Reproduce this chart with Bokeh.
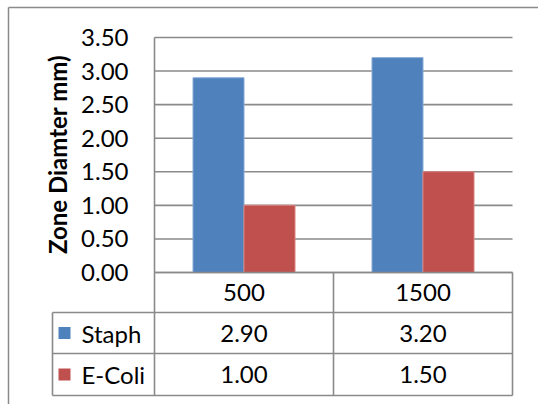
import math

from bokeh.plotting import figure
from bokeh.models import Range1d
from bokeh.core.properties import value
from bokeh.embed import file_html
from bokeh.resources import INLINE

# ---- data -------------------------------------------------------------
categories = ["500", "1500"]
series_names = ["Staph", "E-Coli"]
staph = [2.90, 3.20]
ecoli = [1.00, 1.50]
y_ticks = [0.0, 0.5, 1.0, 1.5, 2.0, 2.5, 3.0, 3.5]
y_tick_labels = ["0.00", "0.50", "1.00", "1.50", "2.00", "2.50", "3.00", "3.50"]
y_title = "Zone Diamter mm)"

series_values = [staph, ecoli]
series_colors = ["#4F81BD", "#C0504D"]
series_edges = ["#86A9D6", "#D9827F"]

# ---- canvas geometry (pixels) ----------------------------------------
W, H = 538, 404
PLOT_LEFT, PLOT_RIGHT = 154, 512
ZERO_PX, TOP_PX = 272, 37
CELL = (PLOT_RIGHT - PLOT_LEFT) / len(categories)
PX_PER_UNIT = (ZERO_PX - TOP_PX) / max(y_ticks)
ROW_EDGES = [272, 312, 353, 395]
LEGEND_LEFT = 52
BAR_W_PX = 51
GRID = "#8A8A8A"
FONT = value("Lato")
FS = "24px"


def xd(px):
    """Screen x -> category units (category i centred on i)."""
    return (px - PLOT_LEFT) / CELL - 0.5


def yd(py):
    """Screen y -> value units."""
    return (ZERO_PX - py) / PX_PER_UNIT


p = figure(width=W, height=H,
           x_range=Range1d(xd(0), xd(W)), y_range=Range1d(yd(H), yd(0)),
           x_axis_location=None, y_axis_location=None,
           toolbar_location=None, output_backend="svg", min_border=0)
p.outline_line_color = None
p.grid.grid_line_color = None
p.background_fill_color = "white"
p.border_fill_color = "white"

# outer chart border (left and top edges)
p.segment(x0=[xd(8), xd(8)], y0=[yd(7), yd(7)], x1=[xd(8), xd(W + 5)], y1=[yd(H + 5), yd(7)],
          line_color=GRID, line_width=1.5)

# horizontal gridlines
gx0 = xd(PLOT_LEFT)
gx1 = xd(PLOT_RIGHT)
p.segment(x0=[gx0] * len(y_ticks), y0=y_ticks, x1=[gx1] * len(y_ticks), y1=y_ticks,
          line_color=GRID, line_width=1.6)

# bars
n = len(series_names)
off = BAR_W_PX / CELL
for s, (vals, col, edge) in enumerate(zip(series_values, series_colors, series_edges)):
    xs = [i + (s - (n - 1) / 2) * off for i in range(len(categories))]
    p.vbar(x=xs, top=vals, bottom=0, width=off, fill_color=col,
           line_color=edge, line_width=1)

# value-axis line on the left of the plot area
p.segment(x0=[gx0], y0=[max(y_ticks)], x1=[gx0], y1=[0], line_color=GRID, line_width=1.6)

# y tick labels
p.text(x=[xd(128)] * len(y_ticks), y=y_ticks, text=y_tick_labels,
       text_font=FONT, text_font_size=FS, text_align="right",
       text_baseline="middle", text_color="#000000")

# y title
p.text(x=[xd(57)], y=[yd(154)], text=[y_title], angle=math.pi / 2,
       text_font=FONT, text_font_size="24px", text_font_style="bold",
       text_align="center", text_baseline="middle", text_color="#000000")

# ---- data table under the plot ---------------------------------------
# horizontal rules
hx0 = [xd(PLOT_LEFT), xd(LEGEND_LEFT), xd(LEGEND_LEFT), xd(LEGEND_LEFT)]
hy = [yd(r) for r in ROW_EDGES]
p.segment(x0=hx0, y0=hy, x1=[gx1] * 4, y1=hy, line_color=GRID, line_width=1.6)
# vertical rules
vxs = [xd(LEGEND_LEFT)] + [xd(PLOT_LEFT + i * CELL) for i in range(len(categories) + 1)]
vtop = [yd(ROW_EDGES[1])] + [yd(ROW_EDGES[0])] * (len(categories) + 1)
p.segment(x0=vxs, y0=vtop, x1=vxs, y1=[yd(ROW_EDGES[-1])] * len(vxs),
          line_color=GRID, line_width=1.6)

row_centers = [yd((ROW_EDGES[k] + ROW_EDGES[k + 1]) / 2) for k in range(len(ROW_EDGES) - 1)]

# category header row
p.text(x=list(range(len(categories))), y=[row_centers[0]] * len(categories), text=categories,
       text_font=FONT, text_font_size=FS, text_align="center",
       text_baseline="middle", text_color="#000000")

# series rows: legend key, name and values
for s, (name, vals, col) in enumerate(zip(series_names, series_values, series_colors)):
    yc = row_centers[s + 1]
    p.rect(x=[xd(64)], y=[yc], width=12, height=12, width_units="screen",
           height_units="screen", fill_color=col, line_color=None)
    p.text(x=[xd(81)], y=[yc], text=[name], text_font=FONT, text_font_size=FS,
           text_align="left", text_baseline="middle", text_color="#000000")
    p.text(x=list(range(len(categories))), y=[yc] * len(vals),
           text=[f"{v:.2f}" for v in vals], text_font=FONT, text_font_size=FS,
           text_align="center", text_baseline="middle", text_color="#000000")

open("out.html", "w").write(file_html(p, INLINE))
